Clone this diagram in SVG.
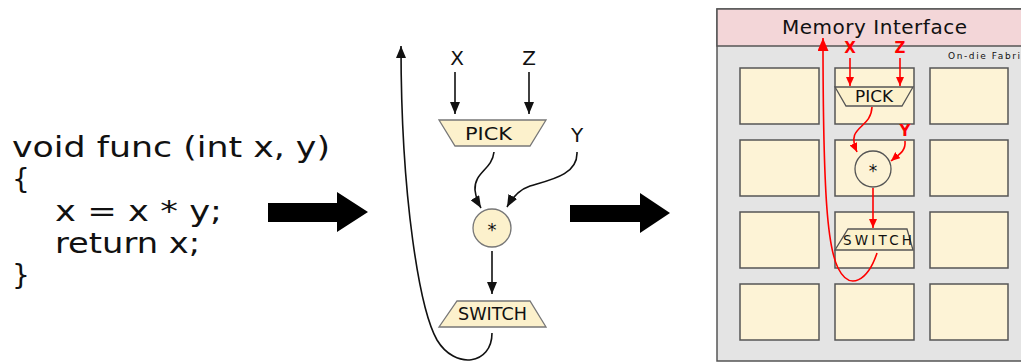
<svg xmlns="http://www.w3.org/2000/svg" width="1021" height="363" viewBox="0 0 1021 363">
<defs>
<style>
.t{font-family:"DejaVu Sans","Liberation Sans",sans-serif;fill:#111}
.node{fill:#fcf1cc;stroke:#777;stroke-width:1.3}
.tile{fill:#fdf3d6;stroke:#555;stroke-width:1.5}
.k{fill:none;stroke:#111;stroke-width:1.6}
.r{fill:none;stroke:#f00;stroke-width:1.6}
.rt{font-family:"DejaVu Sans","Liberation Sans",sans-serif;fill:#f00;font-weight:bold;font-size:15px;text-anchor:middle}
</style>
<marker id="ak" viewBox="0 0 12 10" refX="12" refY="5" markerWidth="12" markerHeight="10" markerUnits="userSpaceOnUse" orient="auto"><path d="M0,0 L12,5 L0,10 Z" fill="#111"/></marker>
<marker id="ar" viewBox="0 0 9 8" refX="9" refY="4" markerWidth="9" markerHeight="8" markerUnits="userSpaceOnUse" orient="auto"><path d="M0,0 L9,4 L0,8 Z" fill="#f00"/></marker>
<marker id="arb" viewBox="0 0 13 11" refX="13" refY="5.5" markerWidth="13" markerHeight="11" markerUnits="userSpaceOnUse" orient="auto"><path d="M0,0 L13,5.5 L0,11 Z" fill="#f00"/></marker>
</defs>

<g id="code">
<text class="t" font-size="28" x="12" y="157" textLength="318" lengthAdjust="spacingAndGlyphs">void func (int x, y)</text>
<text class="t" font-size="28" x="12" y="189">{</text>
<text class="t" font-size="28" x="55" y="221" textLength="167" lengthAdjust="spacingAndGlyphs">x = x * y;</text>
<text class="t" font-size="28" x="55" y="253" textLength="145" lengthAdjust="spacingAndGlyphs">return x;</text>
<text class="t" font-size="28" x="12" y="285">}</text>
</g>

<g id="bigarrow1"><path d="M268,203 L337,203 L337,192 L368,212 L337,232 L337,222 L268,222 Z" fill="#000"/></g>
<g id="bigarrow2"><path d="M570,205 L640,205 L640,193 L670,213 L640,233 L640,222 L570,222 Z" fill="#000"/></g>

<g id="dataflow">
<g id="lblX"><text class="t" font-size="20" x="457" y="65" text-anchor="middle">X</text></g>
<g id="lblZ"><text class="t" font-size="20" x="529" y="65" text-anchor="middle">Z</text></g>
<g id="lblY"><text class="t" font-size="20" x="577" y="142" text-anchor="middle">Y</text></g>
<g id="pick">
<path class="node" d="M439,120 L546,120 L530,146 L455,146 Z"/>
<text class="t" font-size="18" x="465" y="140" textLength="47" lengthAdjust="spacingAndGlyphs">PICK</text>
</g>
<g id="mul">
<circle class="node" cx="492" cy="228" r="19"/>
<text class="t" font-size="18" x="492" y="236" text-anchor="middle">*</text>
</g>
<g id="switch">
<path class="node" d="M457,301 L530,301 L546,327 L439,327 Z"/>
<text class="t" font-size="17" x="458" y="320" textLength="69" lengthAdjust="spacingAndGlyphs">SWITCH</text>
</g>
<g id="edges1">
<path class="k" d="M455,72 L455,114" marker-end="url(#ak)"/>
<path class="k" d="M529,72 L529,114" marker-end="url(#ak)"/>
<path class="k" d="M494,152 C492,170 474,172 475,190 C476,198 478,203 481,208" marker-end="url(#ak)"/>
<path class="k" d="M577,152 C578,175 550,180 530,186 C518,190 512,198 507,207" marker-end="url(#ak)"/>
<path class="k" d="M492,251 L492,294" marker-end="url(#ak)"/>
<path class="k" d="M492,333 C492,365 455,370 437,340 C420,310 401,200 401,46" marker-end="url(#ak)"/>
</g>
</g>

<g id="fabric">
<rect x="717" y="9" width="320" height="352" fill="#e4e4e4" stroke="#555" stroke-width="1.5"/>
<g id="memif">
<rect x="717" y="9" width="320" height="37" fill="#f3d6d8" stroke="#555" stroke-width="1.5"/>
<text class="t" font-size="20" x="782" y="34" textLength="185" lengthAdjust="spacing" fill="#222">Memory Interface</text>
</g>
<text class="t" font-size="9" x="948" y="59" textLength="72" lengthAdjust="spacing" fill="#333">On-die Fabri</text>
<g id="tiles">
<rect class="tile" x="740" y="68" width="79" height="56"/>
<rect class="tile" x="835" y="68" width="79" height="56"/>
<rect class="tile" x="930" y="68" width="78" height="56"/>
<rect class="tile" x="740" y="140" width="79" height="56"/>
<rect class="tile" x="835" y="140" width="79" height="56"/>
<rect class="tile" x="930" y="140" width="78" height="56"/>
<rect class="tile" x="740" y="212" width="79" height="56"/>
<rect class="tile" x="835" y="212" width="79" height="56"/>
<rect class="tile" x="930" y="212" width="78" height="56"/>
<rect class="tile" x="740" y="284" width="79" height="56"/>
<rect class="tile" x="835" y="284" width="79" height="56"/>
<rect class="tile" x="930" y="284" width="78" height="56"/>
</g>
<g id="rpick">
<path d="M835,87 L913,87 L902,106 L846,106 Z" fill="#fcf1cc" stroke="#555" stroke-width="1.3"/>
<text class="t" font-size="15" x="855" y="102" textLength="38" lengthAdjust="spacingAndGlyphs">PICK</text>
</g>
<g id="rmul">
<circle cx="873" cy="169" r="18" fill="#fdf3d6" stroke="#555" stroke-width="1.3"/>
<text class="t" font-size="17" x="873" y="177" text-anchor="middle">*</text>
</g>
<g id="rswitch">
<path d="M848,229 L907,229 L913,250 L835,250 Z" fill="#fcf1cc" stroke="#555" stroke-width="1.3"/>
<text class="t" font-size="13.5" x="843" y="245" textLength="69" lengthAdjust="spacing">SWITCH</text>
</g>
<g id="rlabels">
<text class="rt" x="850" y="53">X</text>
<text class="rt" x="900" y="53">Z</text>
<text class="rt" x="905" y="136">Y</text>
</g>
<g id="edges2">
<path class="r" d="M850,58 L850,86" marker-end="url(#ar)"/>
<path class="r" d="M900,58 L900,86" marker-end="url(#ar)"/>
<path class="r" d="M872,107 C871,130 845,125 857,152" marker-end="url(#ar)"/>
<path class="r" d="M905,141 C906,152 898,155 891,161" marker-end="url(#ar)"/>
<path class="r" d="M873,188 L873,228" marker-end="url(#ar)"/>
<path class="r" d="M877,253 C868,280 850,292 838,268 C828,248 823,200 823,38" marker-end="url(#arb)"/>
</g>
</g>
</svg>
